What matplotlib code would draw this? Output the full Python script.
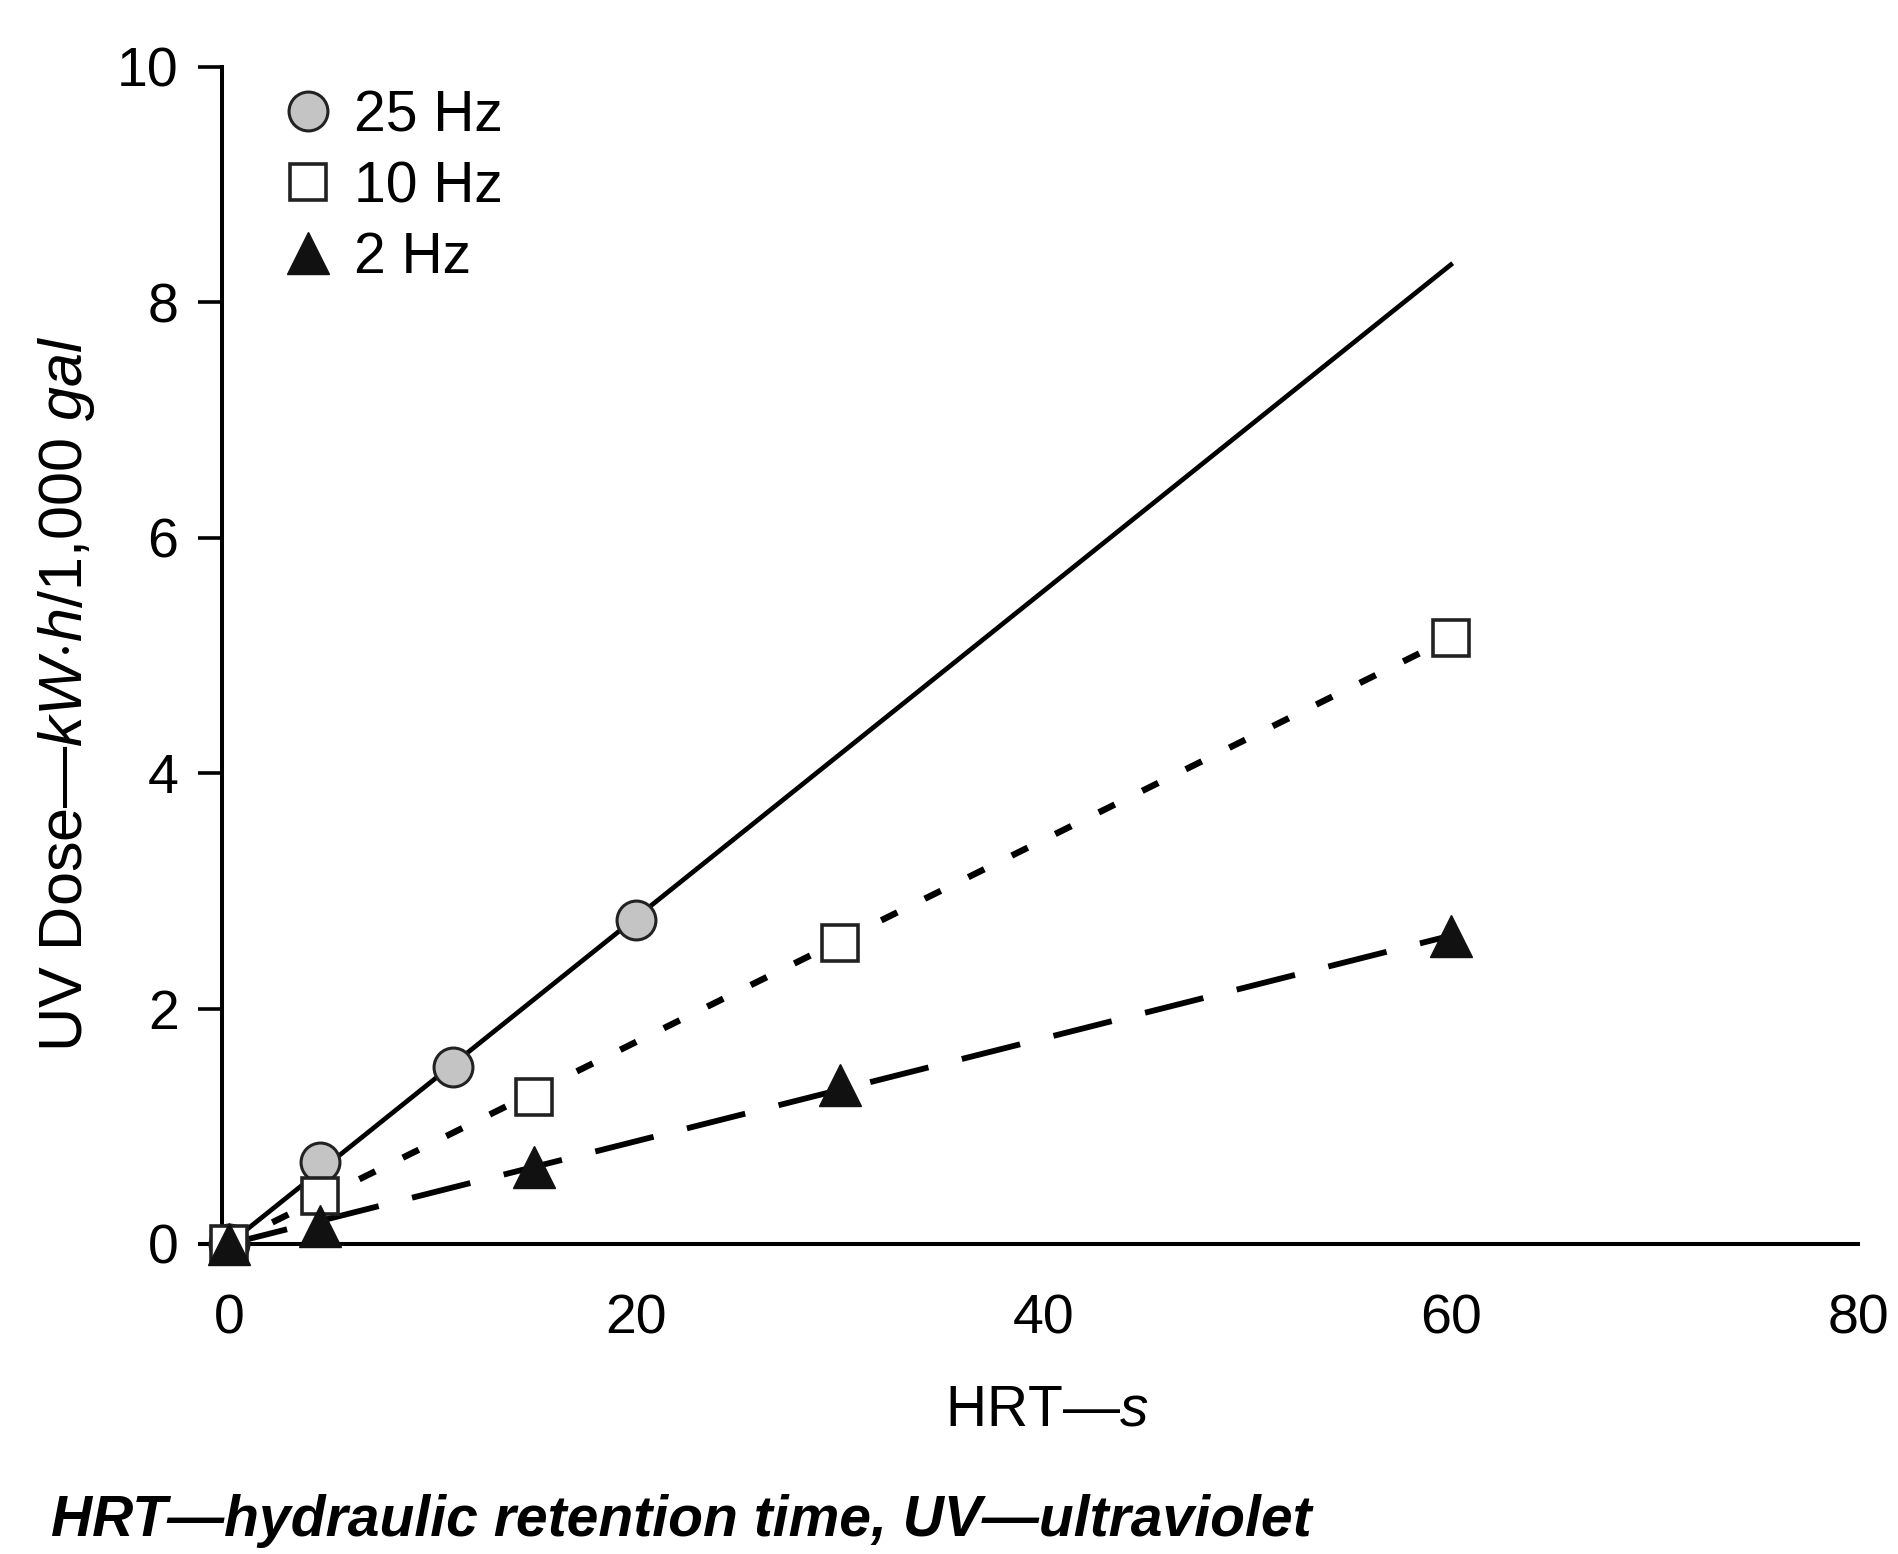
import numpy as np
import matplotlib
matplotlib.use('Agg')
import matplotlib.pyplot as plt

plt.rcParams['font.family'] = ['Liberation Sans', 'DejaVu Sans']
plt.rcParams['mathtext.fontset'] = 'custom'
plt.rcParams['mathtext.rm'] = 'Liberation Sans'
plt.rcParams['mathtext.it'] = 'Liberation Sans:italic'

# datos
x_25 = [0, 4.5, 11, 20]
y_25 = [0, 0.70, 1.50, 2.75]
x_10 = [0, 4.5, 15, 30, 60]
y_10 = [0, 0.41, 1.25, 2.56, 5.15]
x_2 = [0, 4.5, 15, 30, 60]
y_2 = [0, 0.15, 0.65, 1.35, 2.62]

# lineas de ajuste
fit_x = [0, 60]
fit_25 = [0, 8.32]
fit_10 = [0, 5.15]
fit_2 = [0, 2.62]

xticks = [0, 20, 40, 60, 80]
yticks = [0, 2, 4, 6, 8, 10]

fig = plt.figure(figsize=(18.98, 15.54), dpi=100)
ax = fig.add_axes([0.1052, 0.1995, 0.979 - 0.1052, 0.9569 - 0.1995])

ax.plot(fit_x, fit_25, c='k', lw=3.4, ls='-', zorder=2, clip_on=False)
ax.plot(fit_x, fit_10, c='k', lw=4.6, ls=(0, (2.8, 4.8)), zorder=2, clip_on=False)
ax.plot(fit_x, fit_2, c='k', lw=4.2, ls=(0, (10.3, 5.9)), zorder=2, clip_on=False)

ax.plot(x_25, y_25, 'o', ms=28, mfc='#c4c4c4', mec='#222222', mew=2.2, ls='none',
        zorder=3, clip_on=False, label='25 Hz')
ax.plot(x_10, y_10, 's', ms=26, mfc='white', mec='#222222', mew=2.6, ls='none',
        zorder=4, clip_on=False, label='10 Hz')
ax.plot(x_2, y_2, '^', ms=30, mfc='#111111', mec='#111111', mew=1, ls='none',
        zorder=5, clip_on=False, label='2 Hz')

ax.set_xlim(-1.43, 80)
ax.set_ylim(0, 10)
ax.spines['left'].set_position(('data', -0.35))
ax.spines['top'].set_visible(False)
ax.spines['right'].set_visible(False)
for s in ['left', 'bottom']:
    ax.spines[s].set_linewidth(2.9)

ax.set_xticks(xticks)
ax.set_yticks(yticks)
ax.tick_params(axis='x', length=0, pad=36, labelsize=40)
ax.tick_params(axis='y', length=17, width=2.6, pad=14, labelsize=40)

leg = ax.legend(loc='upper left', bbox_to_anchor=(0.031, 1.015), frameon=False, fontsize=41,
                handlelength=0.6, handletextpad=0.5, labelspacing=0.3, borderpad=0.2)

fig.text(0.5 * (0.1052 + 0.979) + 0.0095, 1 - 1410 / 1554, r'HRT—$\mathit{s}$', fontsize=41,
         ha='center', va='center')
fig.text(67 / 1898, 1 - 694 / 1554, r'UV Dose—$\mathit{kW{\cdot}h/1{,}000\ gal}$', fontsize=44,
         rotation=90, ha='center', va='center')
fig.text(51 / 1898, 1 - 1521 / 1554, 'HRT—hydraulic retention time, UV—ultraviolet',
         fontsize=41, style='italic', weight='bold', ha='left', va='center')

plt.savefig('out.png', dpi=100)
